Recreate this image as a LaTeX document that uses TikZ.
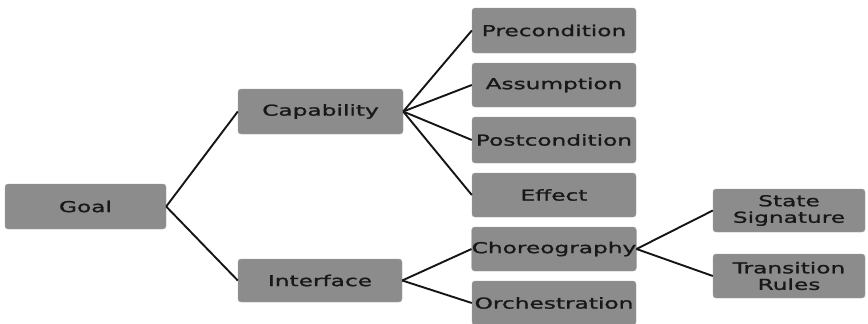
\documentclass[tikz,border=0pt]{standalone}
\usepackage{fontspec}
\newfontfamily\boxfont{DejaVu Sans}[FakeStretch=1.55,FakeBold=1.3]
\definecolor{boxgray}{HTML}{8C8C8C}
\definecolor{boxtext}{HTML}{181818}
\definecolor{linkcol}{HTML}{151515}
\begin{document}
\begin{tikzpicture}[x=1pt,y=-1pt,
  item/.style={draw=boxgray!80!white,fill=boxgray,rounded corners=3pt,
    text=boxtext,align=center,inner sep=0pt,
    font=\boxfont\fontsize{15}{16.5}\selectfont},
  link/.style={draw=linkcol,line width=1.9pt}]
\useasboundingbox (0,0) rectangle (868,324);
\fill[white] (0,0) rectangle (868,324);
% level 0
\node[item,minimum width=161pt,minimum height=45pt] (goal) at (85.5,206.5) {Goal};
% level 1
\node[item,minimum width=165pt,minimum height=45pt] (cap) at (320.5,111.5) {Capability};
\node[item,minimum width=164pt,minimum height=43pt] (iface) at (320,280.5) {Interface};
% level 2
\node[item,minimum width=164pt,minimum height=45pt] (pre) at (554,30.5) {Precondition};
\node[item,minimum width=164pt,minimum height=44pt] (ass) at (554,85) {Assumption};
\node[item,minimum width=164pt,minimum height=46pt] (post) at (554,140) {Postcondition};
\node[item,minimum width=164pt,minimum height=44pt] (eff) at (554,195) {Effect};
\node[item,minimum width=164pt,minimum height=44pt] (chor) at (554,249) {Choreography};
\node[item,minimum width=164pt,minimum height=44pt] (orch) at (554,303) {Orchestration};
% level 3
\node[item,minimum width=152pt,minimum height=43pt] (state) at (789,210.5) {State\\Signature};
\node[item,minimum width=152pt,minimum height=44pt] (trans) at (789,276) {Transition\\Rules};
% connectors
\draw[link] (goal.east) -- (cap.west);
\draw[link] (goal.east) -- (iface.west);
\foreach \c in {pre,ass,post,eff} \draw[link] (cap.east) -- (\c.west);
\draw[link] (iface.east) -- (chor.west);
\draw[link] (iface.east) -- (orch.west);
\draw[link] (chor.east) -- (state.west);
\draw[link] (chor.east) -- (trans.west);
\end{tikzpicture}
\end{document}
